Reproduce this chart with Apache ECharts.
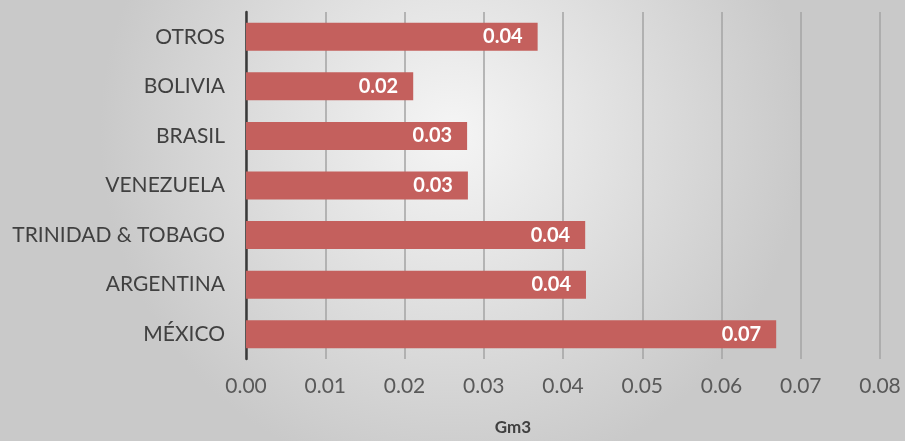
<!DOCTYPE html>
<html>
<head>
<meta charset="utf-8">
<script src="https://cdn.jsdelivr.net/npm/echarts@6/dist/echarts.min.js"></script>
<style>
html,body{margin:0;padding:0;}
#chart{width:905px;height:441px;}
</style>
</head>
<body>
<div id="chart"></div>
<script>
var categories = ["OTROS", "BOLIVIA", "BRASIL", "VENEZUELA", "TRINIDAD & TOBAGO", "ARGENTINA", "MÉXICO"];
var values = [0.0368, 0.0211, 0.0279, 0.0280, 0.0428, 0.0429, 0.0669];
var axisName = "Gm3";

var chart = echarts.init(document.getElementById('chart'));
chart.setOption({
  animation: false,
  backgroundColor: {
    type: 'radial', x: 0.5, y: 0.3, r: 0.8,
    colorStops: [{offset: 0, color: '#f5f5f5'}, {offset: 1, color: '#c9c9c9'}]
  },
  grid: {left: 246, right: 25, top: 12, bottom: 79},
  xAxis: {
    type: 'value', min: 0, max: 0.08, interval: 0.01,
    name: axisName, nameLocation: 'middle', nameGap: 60,
    nameTextStyle: {fontFamily: 'Lato', fontWeight: 'bold', fontSize: 17, color: '#404040', padding: [0, 100, 0, 0]},
    axisLine: {show: false},
    axisTick: {show: false},
    axisLabel: {formatter: function(v){return v.toFixed(2);}, fontFamily: 'Lato', fontSize: 21, color: '#595959', margin: 17},
    splitLine: {show: true, lineStyle: {color: '#a3a3a3', width: 1.5}}
  },
  yAxis: {
    type: 'category', data: categories, inverse: true,
    axisLine: {show: true, lineStyle: {color: '#3a3a3a', width: 2.5}},
    axisTick: {show: false},
    axisLabel: {fontFamily: 'Lato', fontSize: 21, color: '#404040', margin: 21}
  },
  series: [{
    type: 'bar', data: values, barWidth: 28,
    itemStyle: {color: '#c4605d'},
    label: {show: true, position: 'insideRight', distance: 15,
      formatter: function(p){return p.value.toFixed(2);},
      color: '#ffffff', fontFamily: 'Lato', fontWeight: 'bold', fontSize: 20}
  }]
});
</script>
</body>
</html>
